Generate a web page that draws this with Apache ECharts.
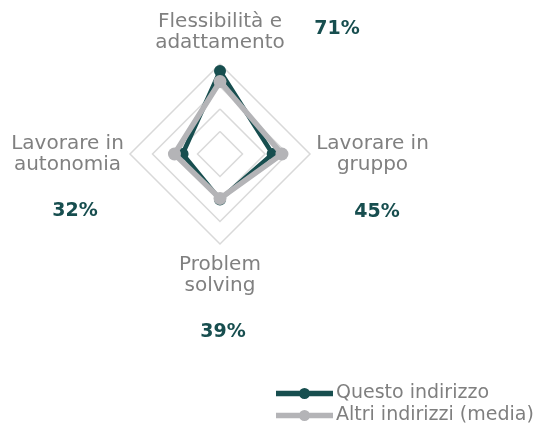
<!DOCTYPE html>
<html>
<head>
<meta charset="utf-8">
<script src="https://cdn.jsdelivr.net/npm/echarts@6/dist/echarts.min.js"></script>
<style>
html,body{margin:0;padding:0;background:#fff;}
#chart{width:537px;height:428px;}
</style>
</head>
<body>
<div id="chart"></div>
<script>
// Indicators in ECharts order (counterclockwise from the top)
var categories = ['Flessibilità e\nadattamento', 'Lavorare in\nautonomia', 'Problem\nsolving', 'Lavorare in\ngruppo'];
var questoIndirizzo = [71, 32, 39, 45];
var altriIndirizzi = [62, 39, 38, 53];
var percentLabels = ['71%', '32%', '39%', '45%'];
var seriesNames = ['Questo indirizzo', 'Altri indirizzi (media)'];
var axisMax = 77;

var FONT = 'DejaVu Sans';
var DARK = '#174e4f';
var GREY = '#b4b4b7';
var LABEL = '#808080';

var chart = echarts.init(document.getElementById('chart'));

// measure label lines so each line can be centred inside its block
var ctx = document.createElement('canvas').getContext('2d');
ctx.font = '20px "' + FONT + '"';
var rich = {
  sTop: { fontSize: 1, lineHeight: 5 },
  sBottom: { fontSize: 1, lineHeight: 4 },
  sRight: { fontSize: 1, lineHeight: 2 }
};
categories.forEach(function (c, i) {
  var lines = c.split('\n');
  var w = Math.ceil(Math.max.apply(null, lines.map(function (l) { return ctx.measureText(l).width; })));
  rich['c' + i] = { width: w, align: 'center', color: LABEL, fontSize: 20, lineHeight: 21, fontFamily: FONT };
});

// positions of percentage annotations (same order as categories)
var pctPos = [[337, 29], [75, 211], [223, 332], [377, 212]];
var graphic = percentLabels.map(function (t, i) {
  return {
    type: 'text', x: pctPos[i][0], y: pctPos[i][1],
    style: { text: t, fill: DARK, font: 'bold 19px "' + FONT + '"', align: 'center', verticalAlign: 'middle' }
  };
});

// legend icon: thick line with a circle marker in the middle
var legendIcon = 'path://M0,2.75 L57,2.75 L57,8.25 L0,8.25 Z M34,5.5 A5.5,5.5 0 1,1 23,5.5 A5.5,5.5 0 1,1 34,5.5 Z';

chart.setOption({
  animation: false,
  backgroundColor: '#ffffff',
  graphic: graphic,
  legend: {
    orient: 'vertical',
    left: 276,
    top: 383,
    padding: 0,
    itemWidth: 57,
    itemHeight: 11,
    itemGap: 1,
    icon: legendIcon,
    data: seriesNames,
    textStyle: { color: '#7f7f7f', fontSize: 19, fontFamily: FONT, lineHeight: 21, padding: [0, 0, 0, -2] }
  },
  radar: {
    center: [220, 154],
    radius: 90,
    startAngle: 90,
    shape: 'polygon',
    splitNumber: 4,
    indicator: categories.map(function (c) { return { name: c, max: axisMax, min: 0 }; }),
    axisName: {
      color: LABEL, fontSize: 20, lineHeight: 21, fontFamily: FONT,
      rich: rich,
      formatter: function (name) {
        var i = categories.indexOf(name);
        var body = name.split('\n').map(function (l) { return '{c' + i + '|' + l + '}'; }).join('\n');
        if (i === 0) return body + '\n{sTop| }';
        if (i === 2) return '{sBottom| }\n' + body;
        return body;
      }
    },
    nameGap: 6,
    axisLine: { show: false },
    axisTick: { show: false },
    splitArea: { show: false },
    splitLine: { lineStyle: { color: '#d9d9d9', width: 1.5 } }
  },
  series: [
    {
      name: seriesNames[0], type: 'radar', z: 2,
      symbol: 'circle', symbolSize: 12,
      itemStyle: { color: DARK },
      lineStyle: { color: DARK, width: 4.5 },
      data: [{ name: seriesNames[0], value: questoIndirizzo }]
    },
    {
      name: seriesNames[1], type: 'radar', z: 3,
      symbol: 'circle', symbolSize: 13,
      itemStyle: { color: GREY },
      lineStyle: { color: GREY, width: 5.5 },
      data: [{ name: seriesNames[1], value: altriIndirizzi }]
    }
  ]
});
</script>
</body>
</html>
